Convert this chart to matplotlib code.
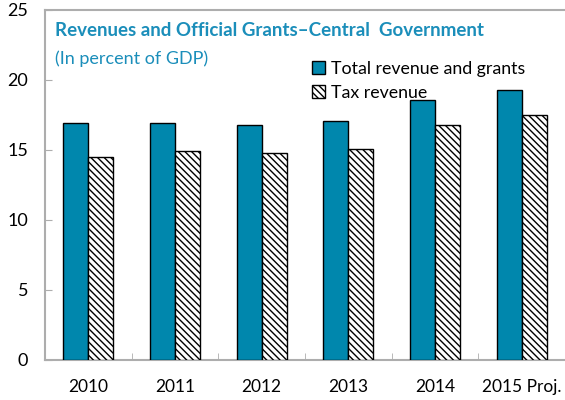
import matplotlib.pyplot as plt
import numpy as np

plt.rcParams['font.family'] = ['Lato', 'DejaVu Sans']
plt.rcParams['hatch.color'] = '#555555'
plt.rcParams['hatch.linewidth'] = 1.0

years = ["2010", "2011", "2012", "2013", "2014", "2015 Proj."]
total_revenue = [16.9, 16.9, 16.8, 17.1, 18.6, 19.3]
tax_revenue = [14.5, 14.9, 14.8, 15.1, 16.8, 17.5]

blue = "#0087AD"
grey = "#ADADAD"

fig = plt.figure(figsize=(5.65, 4.0), dpi=100)
ax = fig.add_axes([45 / 565, 0.1, 1 - 45 / 565, 0.875])

x = np.arange(len(years))
w = 0.29
ax.bar(x - w / 2, total_revenue, w, color=blue, edgecolor="black", linewidth=1.0,
       label="Total revenue and grants", zorder=3)
ax.bar(x + w / 2, tax_revenue, w, color="white", edgecolor="black", linewidth=1.0,
       hatch="\\\\\\\\\\", label="Tax revenue", zorder=3)

ax.set_xlim(-0.5, len(years) - 0.5)
ax.set_ylim(0, 25)
ax.set_yticks(range(0, 26, 5))
ax.set_xticks(x)
ax.set_xticklabels(years)
ax.set_xticks(np.arange(0.5, len(years) - 0.5, 1), minor=True)

for s in ["left", "top", "bottom"]:
    ax.spines[s].set_color(grey)
    ax.spines[s].set_linewidth(1.5)
ax.spines["right"].set_visible(False)

ax.tick_params(axis="y", direction="in", length=5, color=grey, labelsize=13, pad=12)
ax.tick_params(axis="x", which="major", length=0, labelsize=12.5, pad=14)
ax.tick_params(axis="x", which="minor", direction="in", length=5, color=grey)

ax.text(0.02, 0.94, "Revenues and Official Grants\u2013Central  Government",
        transform=ax.transAxes, color="#1B8EBA", fontsize=13.5, fontweight="bold",
        va="center", ha="left")
ax.text(0.02, 0.86, "(In percent of GDP)", transform=ax.transAxes,
        color="#1B8EBA", fontsize=13, va="center", ha="left")

ax.legend(loc="upper left", bbox_to_anchor=(0.5, 0.875), frameon=False,
          fontsize=12.8, handlelength=0.75, handleheight=0.75, handletextpad=0.3,
          labelspacing=0.45, borderaxespad=0)

fig.savefig("out.png", dpi=100)
